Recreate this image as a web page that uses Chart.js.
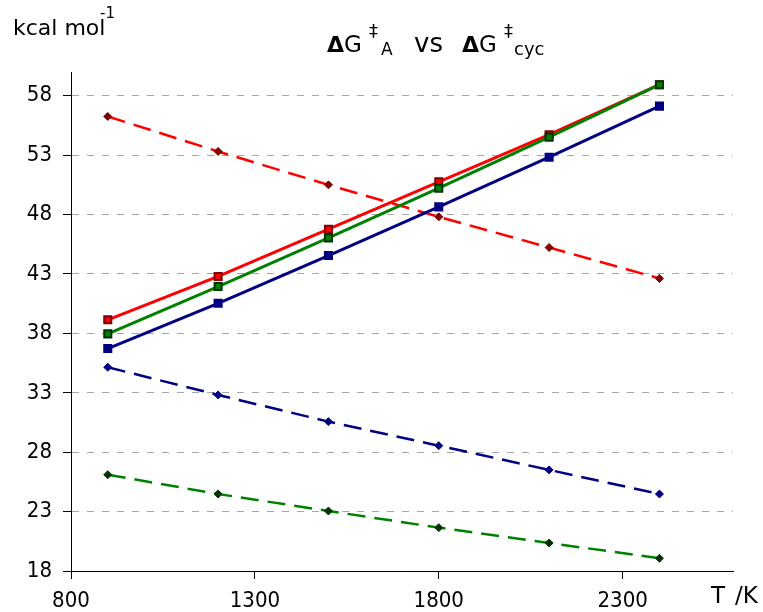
<!DOCTYPE html>
<html><head><meta charset="utf-8">
<script src="https://cdn.jsdelivr.net/npm/chart.js@4"></script>
<style>html,body{margin:0;padding:0;background:#fff}#wrap{width:763px;height:612px;position:relative}</style>
</head><body><div id="wrap"><canvas id="c" width="763" height="612"></canvas></div>
<script>
// ---- data ----
const temperatures = [900, 1200, 1500, 1800, 2100, 2400];
const redSolid    = [39.14, 42.79, 46.77, 50.76, 54.72, 58.93];
const greenSolid  = [37.96, 41.94, 46.04, 50.22, 54.52, 58.93];
const blueSolid   = [36.72, 40.53, 44.55, 48.65, 52.83, 57.13];
const redDashed   = [56.26, 53.31, 50.50, 47.81, 45.23, 42.62];
const blueDashed  = [35.15, 32.82, 30.57, 28.55, 26.51, 24.48];
const greenDashed = [26.11, 24.48, 23.05, 21.65, 20.36, 19.07];
const xTicks = [800, 1300, 1800, 2300];
const yTicks = [18, 23, 28, 33, 38, 43, 48, 53, 58];
const yUnit = 'kcal mol';
const yUnitSup = '-1';
const xUnitT = 'T';
const xUnitK = '/K';
const titleDelta = 'Δ';
const titleG = 'G';
const titleDagger = '‡';
const titleSubA = 'A';
const titleVs = 'vs';
const titleSubCyc = 'cyc';

const FONT = "'DejaVu Sans Condensed','DejaVu Sans',sans-serif";
const WFONT = "'DejaVu Sans',sans-serif";
const pts = arr => temperatures.map((t, i) => ({x: t, y: arr[i]}));

function solid(label, arr, line, mark) {
  return {label, data: pts(arr), borderColor: line, borderWidth: 3,
    pointStyle: 'rect', pointRadius: 5, pointBorderWidth: 2,
    pointBorderColor: mark, pointBackgroundColor: line, tension: 0, fill: false};
}
function dashed(label, arr, line, mark) {
  return {label, data: pts(arr), borderColor: line, borderWidth: 2.5, borderDash: [18, 9],
    pointStyle: 'rectRot', pointRadius: 4, pointBorderWidth: 1,
    pointBorderColor: mark, pointBackgroundColor: mark, tension: 0, fill: false};
}

const textPlugin = {
  id: 'texts',
  afterDraw(chart) {
    const ctx = chart.ctx;
    ctx.save();
    ctx.fillStyle = '#000';
    ctx.textBaseline = 'alphabetic';
    ctx.textAlign = 'left';
    function put(t, x, y, size, bold) {
      ctx.font = (bold ? 'bold ' : '') + size + 'px ' + WFONT;
      ctx.fillText(t, x, y);
    }
    put(yUnit, 13, 35, 22);
    put(yUnitSup, 100, 18, 15);
    put(titleDelta, 327, 52, 22, true);
    put(titleG, 344, 52, 23);
    put(titleDagger, 369, 37, 18);
    put(titleSubA, 381, 55, 17);
    put(titleVs, 414, 52, 26);
    put(titleDelta, 462, 52, 22, true);
    put(titleG, 479, 52, 23);
    put(titleDagger, 504, 37, 18);
    put(titleSubCyc, 514, 55, 18);
    put(xUnitT, 711, 603, 23);
    put(xUnitK, 735, 603, 23);
    ctx.restore();
  }
};

new Chart(document.getElementById('c'), {
  type: 'line',
  data: {
    datasets: [
      solid('green', greenSolid, '#008000', '#003300'),
      solid('red', redSolid, '#ff0000', '#800000'),
      solid('blue', blueSolid, '#000080', '#000080'),
      dashed('red dashed', redDashed, '#ff0000', '#800000'),
      dashed('blue dashed', blueDashed, '#000080', '#000080'),
      dashed('green dashed', greenDashed, '#008000', '#003300')
    ]
  },
  options: {
    responsive: false,
    animation: false,
    devicePixelRatio: 1,
    layout: {padding: {left: 0, right: 30, top: 72, bottom: 0}},
    plugins: {legend: {display: false}, title: {display: false}, tooltip: {enabled: false}},
    scales: {
      x: {
        type: 'linear', min: 800, max: 2600,
        afterBuildTicks: s => { s.ticks = xTicks.map(v => ({value: v})); },
        afterFit: s => { s.height = 41; },
        grid: {drawOnChartArea: false, drawTicks: true, tickLength: 8, tickColor: '#000', tickWidth: 1},
        border: {display: true, color: '#000', width: 1},
        ticks: {autoSkip: false, maxRotation: 0, padding: 9, color: '#000',
          callback: v => String(v),
          font: {family: FONT, size: 22}}
      },
      y: {
        type: 'linear', min: 18, max: 60,
        afterBuildTicks: s => { s.ticks = yTicks.map(v => ({value: v})); },
        afterFit: s => { s.width = 71; },
        grid: {color: '#a6a6a6', lineWidth: 1, drawTicks: true, tickLength: 8, tickColor: '#000', tickWidth: 1, tickBorderDash: []},
        border: {display: true, color: '#000', width: 1, dash: [7, 8]},
        ticks: {padding: 11, color: '#000', callback: v => String(v), font: {family: FONT, size: 22}}
      }
    }
  },
  plugins: [textPlugin]
});
</script></body></html>
